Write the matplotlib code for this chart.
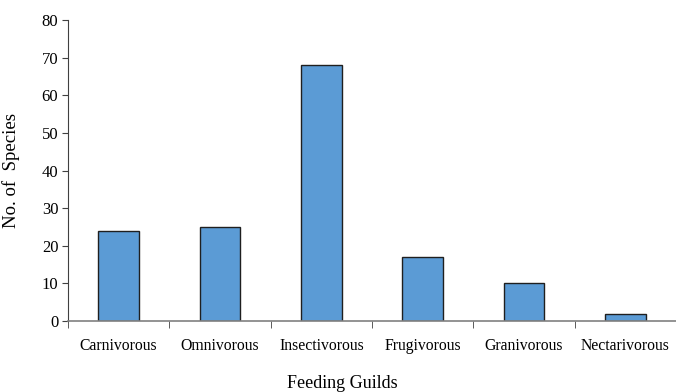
import numpy as np
import matplotlib.pyplot as plt

guilds = ['Carnivorous', 'Omnivorous', 'Insectivorous', 'Frugivorous', 'Granivorous', 'Nectarivorous']
species = [24, 25, 68, 17, 10, 2]
yticks = [0, 10, 20, 30, 40, 50, 60, 70, 80]

plt.rcParams['font.family'] = ['Liberation Serif', 'DejaVu Serif']

fig = plt.figure(figsize=(6.76, 3.92), dpi=100)
ax = fig.add_axes([0.1006, 0.181, 0.8994, 0.768])

x = np.arange(len(guilds))
ax.bar(x, species, width=0.4, color='#5b9bd5', edgecolor='#1f1f1f', linewidth=1.0, zorder=2)

ax.set_xlim(-0.5, len(guilds) - 0.5)
ax.set_ylim(0, 80)
ax.set_yticks(yticks)
ax.tick_params(axis='y', labelsize=12, direction='out', length=4, color='#404040', pad=3)

# category labels at centres, tick marks between categories
ax.set_xticks(x)
ax.set_xticklabels(guilds, fontsize=11.3)
ax.tick_params(axis='x', which='major', length=0, pad=12)
ax.set_xticks(np.arange(-0.5, len(guilds), 1.0), minor=True)
ax.tick_params(axis='x', which='minor', direction='out', length=5, color='#404040')

ax.spines['top'].set_visible(False)
ax.spines['right'].set_visible(False)
ax.spines['left'].set_color('#404040')
ax.spines['bottom'].set_color('#808080')
ax.spines['bottom'].set_linewidth(1.2)

ax.set_ylabel('No. of  Species', fontsize=13.5)
ax.yaxis.set_label_coords(-0.079, 0.5)
ax.set_xlabel('Feeding Guilds', fontsize=13)
ax.xaxis.set_label_coords(0.4515, -0.18)

fig.savefig('out.png', dpi=100)
